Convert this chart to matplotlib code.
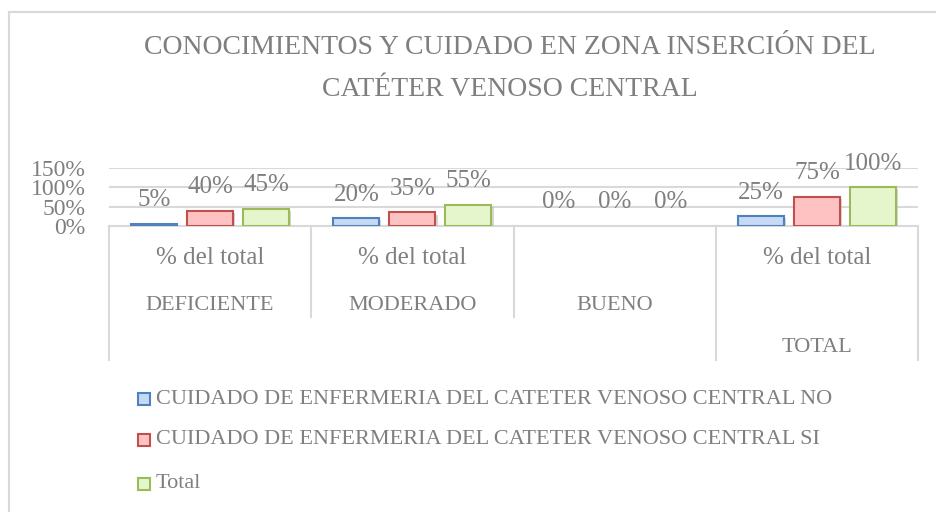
import matplotlib
matplotlib.use("Agg")
import matplotlib.pyplot as plt
import matplotlib.patheffects as pe
from matplotlib.patches import Rectangle
import numpy as np

plt.rcParams['font.family'] = ['Liberation Serif', 'DejaVu Serif']

categories = ["DEFICIENTE", "MODERADO", "BUENO", "TOTAL"]
sub_labels = ["% del total", "% del total", "", "% del total"]
series_names = ["CUIDADO DE ENFERMERIA DEL CATETER VENOSO CENTRAL NO",
                "CUIDADO DE ENFERMERIA DEL CATETER VENOSO CENTRAL SI",
                "Total"]
no_vals = [0.05, 0.20, 0.00, 0.25]
si_vals = [0.40, 0.35, 0.00, 0.75]
total_vals = [0.45, 0.55, 0.00, 1.00]
y_ticks = [0, 0.5, 1.0, 1.5]
y_tick_labels = ["0%", "50%", "100%", "150%"]

W, H = 936, 512
gray = "#7f7f7f"
grid = "#d9d9d9"
fills = ["#c6d9f5", "#ffc2c2", "#e5f6cc"]
edges = ["#4f81bd", "#c0504d", "#9bbb59"]


def fx(x):
    return x / W


def fy(y):
    return 1 - y / H


fig = plt.figure(figsize=(W / 100, H / 100), dpi=100)

# outer chart border (right and bottom are cut off in the original)
fig.add_artist(plt.Line2D([fx(9), fx(9)], [fy(12), 0], color=grid, lw=1.5))
fig.add_artist(plt.Line2D([fx(9), 1], [fy(12), fy(12)], color=grid, lw=1.5))

ax = fig.add_axes([fx(109), fy(226), fx(918) - fx(109), fy(168) - fy(226)])
ax.set_xlim(-0.5, 3.5)
ax.set_ylim(0, 1.5)

x = np.arange(len(categories))
bw = 0.228
off = 0.277
shadow = [pe.SimplePatchShadow(offset=(1.5, -1.5), shadow_rgbFace="#bbbbbb", alpha=0.6), pe.Normal()]
for i, vals in enumerate([no_vals, si_vals, total_vals]):
    pos = x + (i - 1) * off
    bars = ax.bar(pos, vals, bw, color=fills[i], edgecolor=edges[i], linewidth=1.5, zorder=3)
    for b, v in zip(bars, vals):
        if v > 0:
            b.set_path_effects(shadow)
        else:
            b.set_visible(False)
    for p, v in zip(pos, vals):
        ax.annotate(f"{v * 100:.0f}%", (p, v), xytext=(0, 17), textcoords="offset points",
                    ha="center", va="center", color=gray, fontsize=18, zorder=4)

ax.set_yticks(y_ticks)
ax.set_yticklabels(y_tick_labels)
ax.tick_params(axis="y", length=0, labelsize=17, labelcolor=gray, pad=17)
ax.set_xticks([])
ax.yaxis.grid(True, color=grid, lw=1.5)
ax.set_axisbelow(True)
for s in ["top", "right", "left"]:
    ax.spines[s].set_visible(False)
ax.spines["bottom"].set_color(grid)
ax.spines["bottom"].set_linewidth(1.5)

# multi-level category axis
bounds = [109, 311, 514, 716, 918]
for i, bx in enumerate(bounds):
    bottom = 317 if i in (1, 2) else 360
    fig.add_artist(plt.Line2D([fx(bx), fx(bx)], [fy(226), fy(bottom)], color=grid, lw=1.5))
for i, (cat, sub) in enumerate(zip(categories, sub_labels)):
    cx = (bounds[i] + bounds[i + 1]) / 2
    if sub:
        fig.text(fx(cx), fy(258), sub, ha="center", va="center", color=gray, fontsize=18)
    cy = 348 if cat == "TOTAL" else 305
    fig.text(fx(cx), fy(cy), cat, ha="center", va="center", color=gray, fontsize=16)

# title
fig.text(fx(510), fy(48), "CONOCIMIENTOS Y CUIDADO EN ZONA INSERCIÓN DEL",
         ha="center", va="center", color=gray, fontsize=20)
fig.text(fx(510), fy(90), "CATÉTER VENOSO CENTRAL",
         ha="center", va="center", color=gray, fontsize=20)

# legend
for i, (name, ly) in enumerate(zip(series_names, [399, 440, 484])):
    fig.add_artist(Rectangle((fx(138), fy(ly + 6)), fx(12), 12 / H, facecolor=fills[i],
                             edgecolor=edges[i], lw=1.5))
    fig.text(fx(156), fy(ly), name, ha="left", va="center", color=gray, fontsize=16)

fig.savefig("out.png", dpi=100)
